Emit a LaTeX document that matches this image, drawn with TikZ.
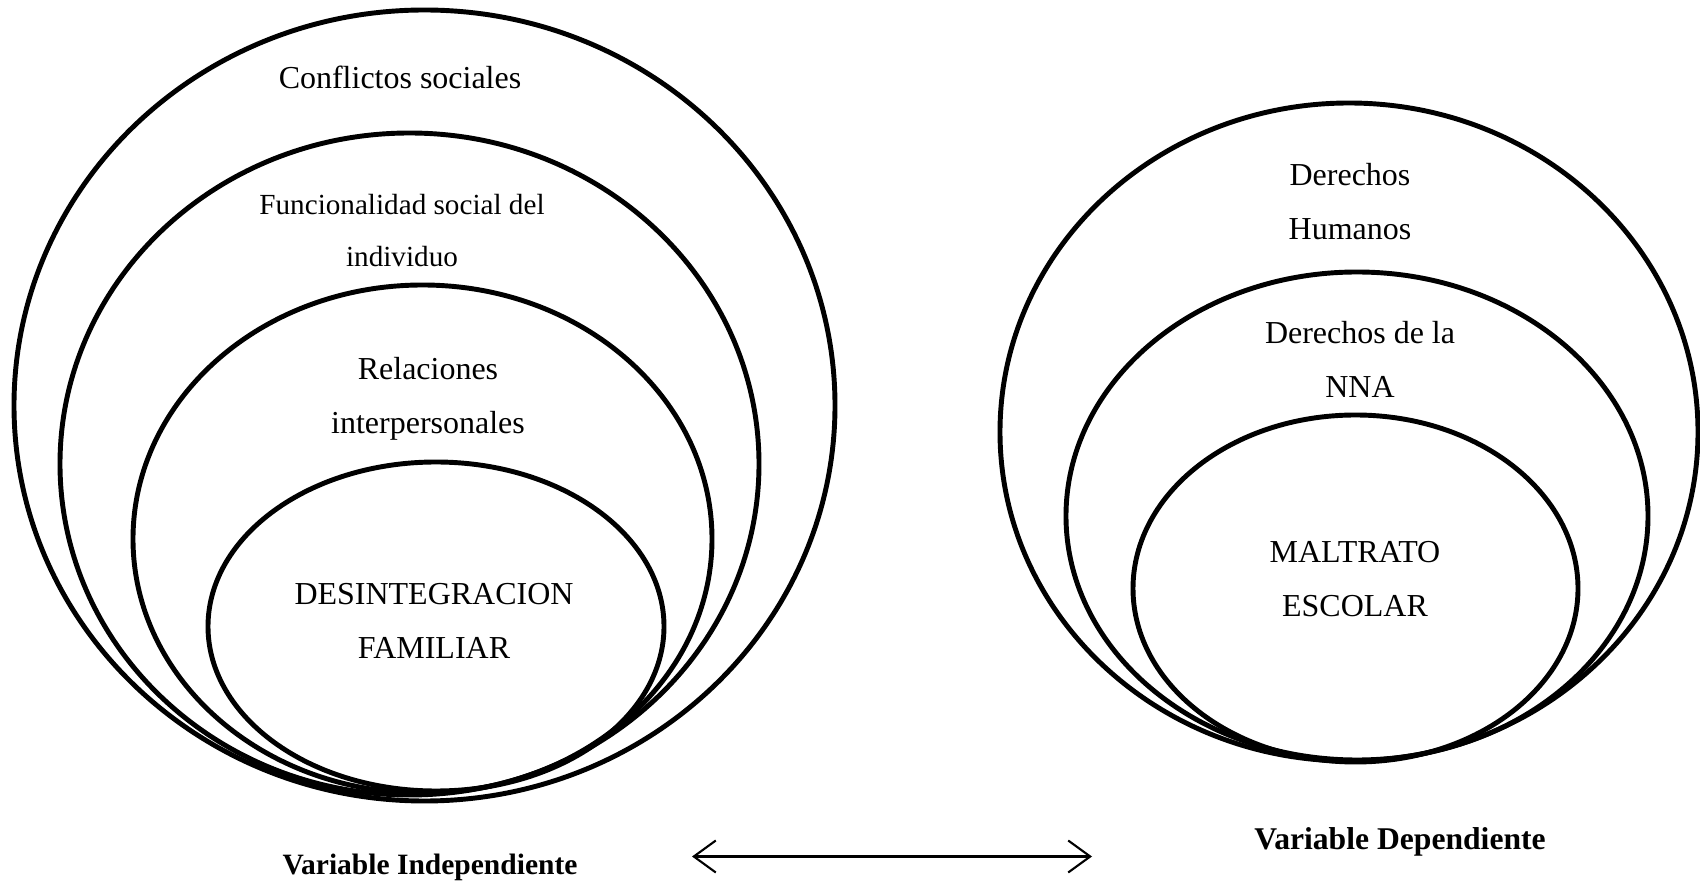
\documentclass[tikz,border=0pt]{standalone}
\usepackage{fontspec}
\setmainfont{Liberation Serif}
\usetikzlibrary{shapes,arrows.meta}
\tikzset{ring/.style={ellipse,draw,line width=1.4pt,inner sep=0pt,outer sep=0pt}}
\tikzset{lbl/.style={align=center,inner sep=0pt,font=\fontsize{9.1}{15.4}\selectfont}}
\tikzset{lblsm/.style={lbl,font=\fontsize{8.3}{14.8}\selectfont}}
\tikzset{var/.style={inner sep=0pt,font=\fontsize{9}{11}\selectfont\bfseries}}

\begin{document}
\begin{tikzpicture}
\useasboundingbox (0,0) rectangle (17,8.86);
% variable independiente
\node[ring,minimum width=8.21cm,minimum height=7.91cm](conf) at (4.245,4.805) {};
\node[ring,minimum width=6.99cm,minimum height=6.62cm](func) at (4.095,4.22) {};
\node[ring,minimum width=5.79cm,minimum height=5.08cm](rel) at (4.225,3.47) {};
\node[ring,minimum width=4.56cm,minimum height=3.29cm](desint) at (4.36,2.595) {};
\node[lbl](confT) at (4.00,8.09) {Conflictos sociales};
\node[lblsm](funcT) at (4.02,6.55) {Funcionalidad social del\\individuo};
\node[lbl](relT) at (4.28,4.87) {Relaciones\\interpersonales};
\node[lbl](desintT) at (4.34,2.655) {DESINTEGRACION\\FAMILIAR};

% variable dependiente
\node[ring,minimum width=6.98cm,minimum height=6.58cm](ddhh) at (13.49,4.54) {};
\node[ring,minimum width=5.82cm,minimum height=4.88cm](nna) at (13.57,3.70) {};
\node[ring,minimum width=4.45cm,minimum height=3.47cm](malt) at (13.555,2.975) {};
\node[lbl](ddhhT) at (13.50,6.84) {Derechos\\Humanos};
\node[lbl](nnaT) at (13.60,5.27) {Derechos de la\\NNA};
\node[lbl](maltT) at (13.55,3.065) {MALTRATO\\ESCOLAR};

\node[var,font=\fontsize{8.4}{11}\selectfont\bfseries](vind) at (4.30,0.19) {Variable Independiente};
\node[var](vdep) at (14.00,0.44) {Variable Dependiente};
\coordinate (arrL) at (6.92,0.295);
\coordinate (arrR) at (10.92,0.295);
\draw[{Straight Barb[length=2.2mm,width=3.2mm]}-{Straight Barb[length=2.2mm,width=3.2mm]},line width=0.6pt] (arrL) -- (arrR);

\end{tikzpicture}
\end{document}
